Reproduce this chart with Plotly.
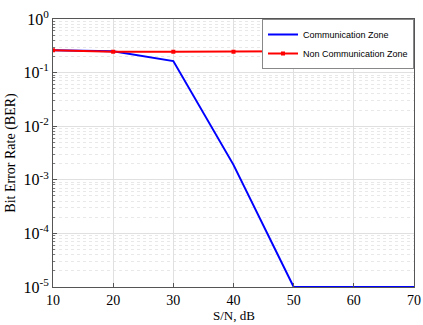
import plotly.graph_objects as go

snr = [10, 20, 30, 40, 50, 60, 70]
ber_comm = [0.26, 0.25, 0.164, 0.0019, 1e-5, 1e-5, 1e-5]
ber_noncomm = [0.26, 0.245, 0.245, 0.245, 0.25, 0.24, 0.25]
y_tickvals = [1e-5, 1e-4, 1e-3, 1e-2, 1e-1, 1]
y_ticktext = ["10<sup>-5</sup>", "10<sup>-4</sup>", "10<sup>-3</sup>", "10<sup>-2</sup>", "10<sup>-1</sup>", "10<sup>0</sup>"]

fig = go.Figure()
fig.add_trace(go.Scatter(x=snr, y=ber_comm, mode="lines", name="Communication Zone",
                         line=dict(color="#0000ff", width=2)))
fig.add_trace(go.Scatter(x=snr, y=ber_noncomm, mode="lines+markers", name="Non Communication Zone",
                         line=dict(color="#ff0000", width=2),
                         marker=dict(symbol="square", size=4, color="#ff0000")))

fig.update_layout(
    width=423, height=325,
    margin=dict(l=53, r=9, t=19, b=38),
    paper_bgcolor="white", plot_bgcolor="white",
    font=dict(family="Liberation Serif", size=14, color="black"),
    showlegend=True,
    legend=dict(x=1, y=1, xanchor="right", yanchor="top",
                bgcolor="white", bordercolor="#888", borderwidth=1,
                font=dict(family="Liberation Sans", size=9),
                tracegroupgap=0, itemwidth=30),
    annotations=[dict(text="S/N, dB", xref="paper", yref="paper", x=0.5, y=0,
                      xanchor="center", yanchor="top", yshift=-19, showarrow=False,
                      font=dict(size=13))],
)
fig.update_xaxes(
    range=[10, 70], tickvals=snr, automargin=False,
    showgrid=True, gridcolor="#e0e0e0", gridwidth=1,
    showline=True, linecolor="#555", mirror=True,
    ticks="inside", ticklen=4, tickcolor="#555",
    ticklabeloverflow="allow",
    tickfont=dict(size=14),
    zeroline=False,
)
fig.update_yaxes(
    type="log", range=[-5, 0], tickvals=y_tickvals, ticktext=y_ticktext, automargin=False,
    showgrid=True, gridcolor="#e0e0e0", gridwidth=1,
    showline=True, linecolor="#555", mirror=True,
    ticks="inside", ticklen=4, tickcolor="#555",
    minor=dict(showgrid=True, gridcolor="#e8e8e8", griddash="dot", dtick="D1",
               ticks="inside", ticklen=2, tickcolor="#777"),
    title=dict(text="Bit Error Rate (BER)", standoff=4, font=dict(size=14)),
    tickfont=dict(size=16),
    zeroline=False,
)

fig.write_html("out.html")
